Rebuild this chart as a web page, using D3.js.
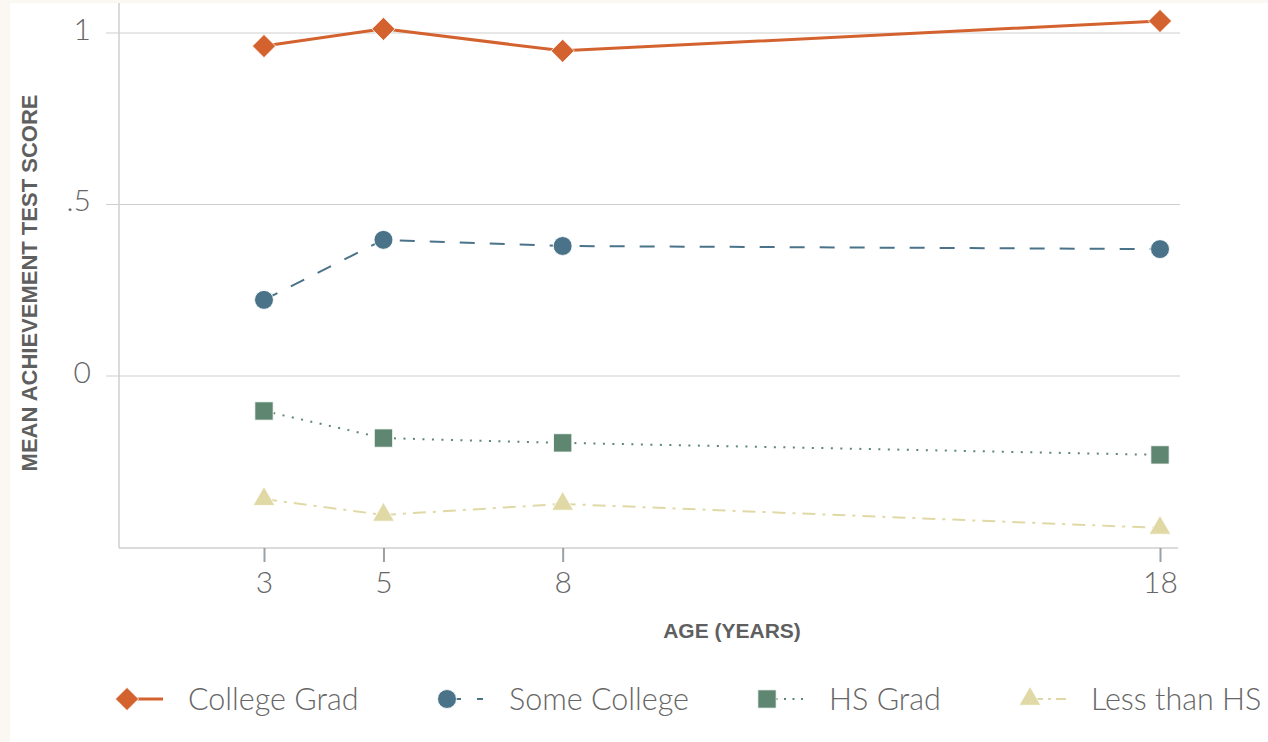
<!DOCTYPE html>
<html>
<head>
<meta charset="utf-8">
<script src="https://cdn.jsdelivr.net/npm/d3@7"></script>
<style>
  html, body { margin: 0; padding: 0; background: #fbf7f3; }
  #chart { position: absolute; left: 10px; top: 3px; width: 1258px; height: 739px; background: #fff; }
  svg { position: absolute; left: -10px; top: -3px; font-family: Lato, "Open Sans", sans-serif; }
  .axis-title { font-family: "Liberation Sans", Arial, sans-serif; font-weight: bold; fill: #5f5f5f; }
</style>
</head>
<body>
<div id="chart"></div>
<script>
// ages on the x axis
const ages = [3, 5, 8, 18];
const seriesNames = ['College Grad', 'Some College', 'HS Grad', 'Less than HS'];
const collegeGrad = [0.962, 1.012, 0.948, 1.035];
const someCollege = [0.222, 0.397, 0.379, 0.370];
const hsGrad = [-0.102, -0.181, -0.195, -0.230];
const lessThanHS = [-0.359, -0.405, -0.373, -0.443];
const yTicks = [0, 0.5, 1];
const yTickLabels = ['0', '.5', '1'];

const W = 1268, H = 742;
const svg = d3.select('#chart').append('svg').attr('width', W).attr('height', H);

const plot = { left: 119, right: 1178, top: 3, bottom: 548 };
const x = d3.scaleLinear().domain([3, 18]).range([264, 1160]);
const y = d3.scaleLinear().domain([0, 1]).range([376, 33]);

// diamond = square turned 45deg
const styles = [
  { color: '#d4622f', dash: null, legDash: null, shape: d3.symbolSquare, rot: 45, size: 270, width: 3 },
  { color: '#4a7389', dash: '15,15', legDash: '6,16', shape: d3.symbolCircle, rot: 0, size: 280, width: 2 },
  { color: '#5e8670', dash: '2,7.5', legDash: '2,6.5', shape: d3.symbolSquare, rot: 0, size: 335, width: 2 },
  { color: '#e0d9a6', dash: '13,7,3,7', legDash: '13,5,3,5', shape: d3.symbolTriangle, rot: 0, size: 205, width: 2 }
];
const allSeries = [collegeGrad, someCollege, hsGrad, lessThanHS];

// grid lines
svg.append('g').selectAll('line').data(yTicks).join('line')
  .attr('x1', 106).attr('x2', plot.right + 2)
  .attr('y1', d => y(d)).attr('y2', d => y(d))
  .attr('stroke', '#cfcfcf').attr('stroke-width', 1.2);

// axis frame
svg.append('line').attr('x1', plot.left).attr('x2', plot.left)
  .attr('y1', plot.top).attr('y2', plot.bottom)
  .attr('stroke', '#cfcfcf').attr('stroke-width', 1.5);
svg.append('line').attr('x1', plot.left).attr('x2', plot.right)
  .attr('y1', plot.bottom).attr('y2', plot.bottom)
  .attr('stroke', '#cfcfcf').attr('stroke-width', 1.5);

// y tick labels
svg.append('g').selectAll('text').data(yTicks).join('text')
  .attr('x', 91).attr('y', d => y(d) - 4).attr('dy', '0.36em')
  .attr('text-anchor', 'end')
  .attr('font-size', 30).attr('font-weight', 300).attr('fill', '#666')
  .text((d, i) => yTickLabels[i]);

// x axis ticks
const xAxis = d3.axisBottom(x).tickValues(ages).tickSize(14).tickPadding(10).tickFormat(d3.format('d'));
const xg = svg.append('g').attr('transform', `translate(0,${plot.bottom})`).call(xAxis);
xg.select('.domain').remove();
xg.selectAll('.tick line').attr('stroke', '#9aa0a6').attr('stroke-width', 2);
xg.attr('font-family', null).attr('font-size', null);
xg.selectAll('.tick text').attr('font-size', 30).attr('font-weight', 300).attr('fill', '#666');

// axis titles
svg.append('text').attr('class', 'axis-title')
  .attr('transform', 'translate(37,283) rotate(-90)')
  .attr('text-anchor', 'middle')
  .attr('font-size', 22)
  .text('MEAN ACHIEVEMENT TEST SCORE');
svg.append('text').attr('class', 'axis-title')
  .attr('x', 732).attr('y', 638)
  .attr('text-anchor', 'middle')
  .attr('font-size', 21)
  .text('AGE (YEARS)');

// lines and markers
const line = d3.line().x((d, i) => x(ages[i])).y(d => y(d));
allSeries.slice().reverse().forEach((vals, ri) => {
  const s = styles[3 - ri];
  const g = svg.append('g');
  g.append('path').datum(vals)
    .attr('d', line).attr('fill', 'none')
    .attr('stroke', s.color).attr('stroke-width', s.width)
    .attr('stroke-dasharray', s.dash);
  g.selectAll('path.m').data(vals).join('path').attr('class', 'm')
    .attr('transform', (d, i) => `translate(${x(ages[i])},${y(d)}) rotate(${s.rot})`)
    .attr('d', d3.symbol().type(s.shape).size(s.size))
    .attr('fill', s.color).attr('stroke', '#fff').attr('stroke-width', 0.8);
});

// legend
const legendX = [127, 447, 767, 1030];
const legendTextX = [188, 509, 829, 1091];
const ly = 699;
seriesNames.forEach((name, i) => {
  const s = styles[i];
  const g = svg.append('g');
  g.append('line').attr('x1', legendX[i] + (i === 1 ? 8 : 0)).attr('x2', legendX[i] + 36)
    .attr('y1', ly).attr('y2', ly)
    .attr('stroke', s.color).attr('stroke-width', s.width)
    .attr('stroke-dasharray', s.legDash);
  g.append('path').attr('transform', `translate(${legendX[i]},${ly}) rotate(${s.rot})`)
    .attr('d', d3.symbol().type(s.shape).size(s.size))
    .attr('fill', s.color).attr('stroke', '#fff').attr('stroke-width', 0.8);
  g.append('text').attr('x', legendTextX[i]).attr('y', ly).attr('dy', '0.36em')
    .attr('font-size', 30.5).attr('font-weight', 300).attr('fill', '#666')
    .text(name);
});
</script>
</body>
</html>
